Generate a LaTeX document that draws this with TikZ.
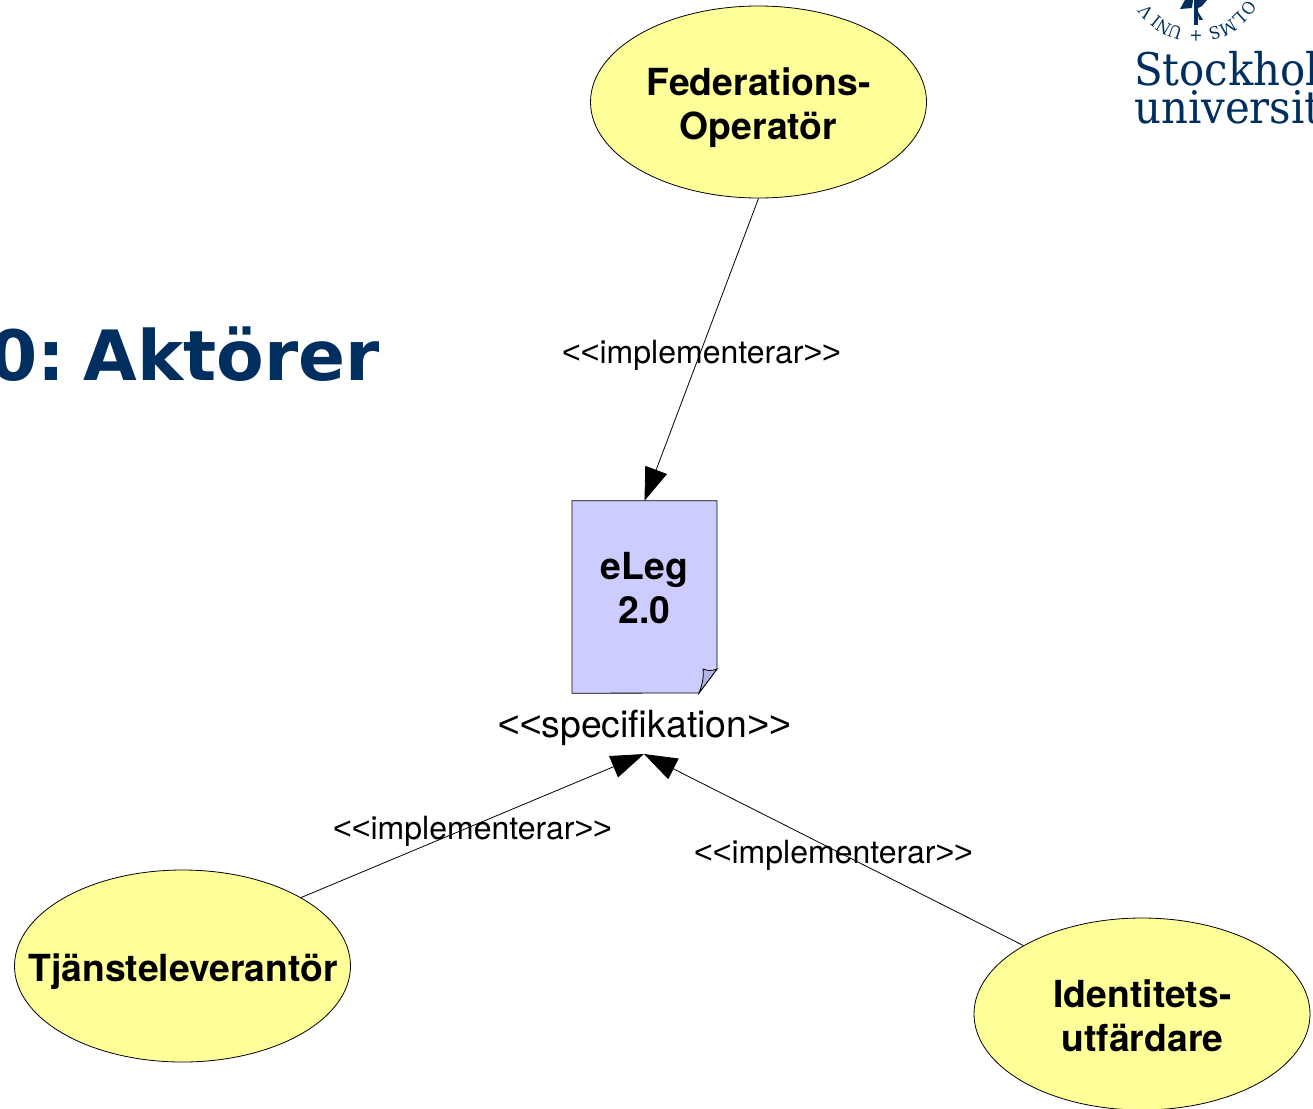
\documentclass[tikz,border=0pt]{standalone}
\usepackage{fontspec}
\usetikzlibrary{shapes.geometric,arrows.meta}
\setmainfont{TeX Gyre Heros}
\newfontfamily\titlefont{DejaVu Sans}
\newfontfamily\logofont[FakeStretch=0.93]{DejaVu Serif}
\newfontfamily\anglefont{Liberation Sans}
\definecolor{suyellow}{HTML}{FFFF99}
\definecolor{sublue}{HTML}{CCCCFF}
\definecolor{sufold}{HTML}{B3B3E0}
\definecolor{sunavy}{HTML}{002F5F}
\newcommand{\fs}[1]{\fontsize{#1}{#1}\selectfont}
\newcommand{\opn}{{\anglefont <{}<}}
\newcommand{\cls}{{\anglefont >{}>}}
\tikzset{
  actor/.style={ellipse,draw=black,line width=0.8pt,fill=suyellow,minimum width=336pt,minimum height=192pt,inner sep=0pt},
  boldtext/.style={font=\fs{37.3}\bfseries,align=center,inner sep=0pt,text=black},
  noteb/.style={rectangle,minimum width=144.5pt,minimum height=192pt,inner sep=0pt},
  conn/.style={draw=black,line width=0.8pt,-{Triangle[length=33pt,width=23pt]}},
  lbl/.style={font=\fs{32},inner sep=0pt},
  seal/.style={font=\logofont\fs{17},text=sunavy,inner sep=0pt},
  logotext/.style={font=\logofont\fs{45},text=sunavy,inner sep=0pt,anchor=base west},
}
\begin{document}
\begin{tikzpicture}[x=1pt,y=-1pt]
\useasboundingbox (0,0) rectangle (1313,1108);
\clip (0,0) rectangle (1313,1108);
\fill[white] (0,0) rectangle (1313,1108);
% title
\node[font=\titlefont\fs{69.4}\bfseries,text=sunavy,inner sep=0pt,anchor=base east] (title) at (380,380) {0:\kern-6pt\ Aktörer};
% logo
\node[logotext] (lg1) at (1134,85) {Stockholms};
\node[logotext] (lg2) at (1134,123) {universitet};
\foreach \t/\a [count=\i] in {O/325,L/313,M/300,S/287,+/270,U/251,N/239.5,I/231,V/219}{
  \node[seal,rotate=\a-90] (s\i) at ({1196+64*cos(\a)},{-28-64*sin(\a)}) {\t};
}
\fill[sunavy] (1193.5,0) -- (1198,0) -- (1198,25) -- (1193.5,25) -- cycle;
\fill[sunavy] (1180,9) -- (1185,0) -- (1193,0) -- (1192,8) -- cycle;
\fill[sunavy] (1198,0) -- (1207,0) -- (1202,6) -- (1198,8) -- cycle;
\fill[sunavy] (1197,10) -- (1203,20) -- (1199,20) -- cycle;
% nodes
\node[actor] (fed) at (758.5,102) {};
\node[actor] (tj) at (182.5,966) {};
\node[actor] (id) at (1142,1014) {};
\node[boldtext] (fedt) at (758.5,108) {Federations-\\[7pt]Operatör};
\node[boldtext] (tjt) at (183,972) {Tjänsteleverantör};
\node[boldtext] (idt) at (1142.5,1016) {Identitets-\\[7pt]utfärdare};
\node[noteb] (note) at (644.5,597) {};
\draw[line width=0.8pt,fill=sublue] (note.north west) -- (note.north east) -- (717,669) -- (699,693) -- (note.south west) -- cycle;
\draw[line width=0.8pt,fill=sufold] (699,693) .. controls (702,685) and (704,678) .. (703,669) .. controls (708,671) and (712,671) .. (717,669) -- cycle;
\node[boldtext] (notetext) at (644.5,588) {eLeg\\[6pt]2.0};
\node[font=\fs{37.4},inner sep=0pt] (spec) at (644.5,728) {\opn specifikation\cls};
\coordinate (target) at (644,754);
% connectors
\draw[conn] (fed.south) -- (note.north);
\draw[conn] (tj.30.2) -- (target);
\draw[conn] (id.150) -- (target);
% labels
\node[lbl] (l1) at (701.5,355.5) {\opn implementerar\cls};
\node[lbl] (l2) at (472.5,831.5) {\opn implementerar\cls};
\node[lbl] (l3) at (833.5,855.5) {\opn implementerar\cls};
\end{tikzpicture}
\end{document}
